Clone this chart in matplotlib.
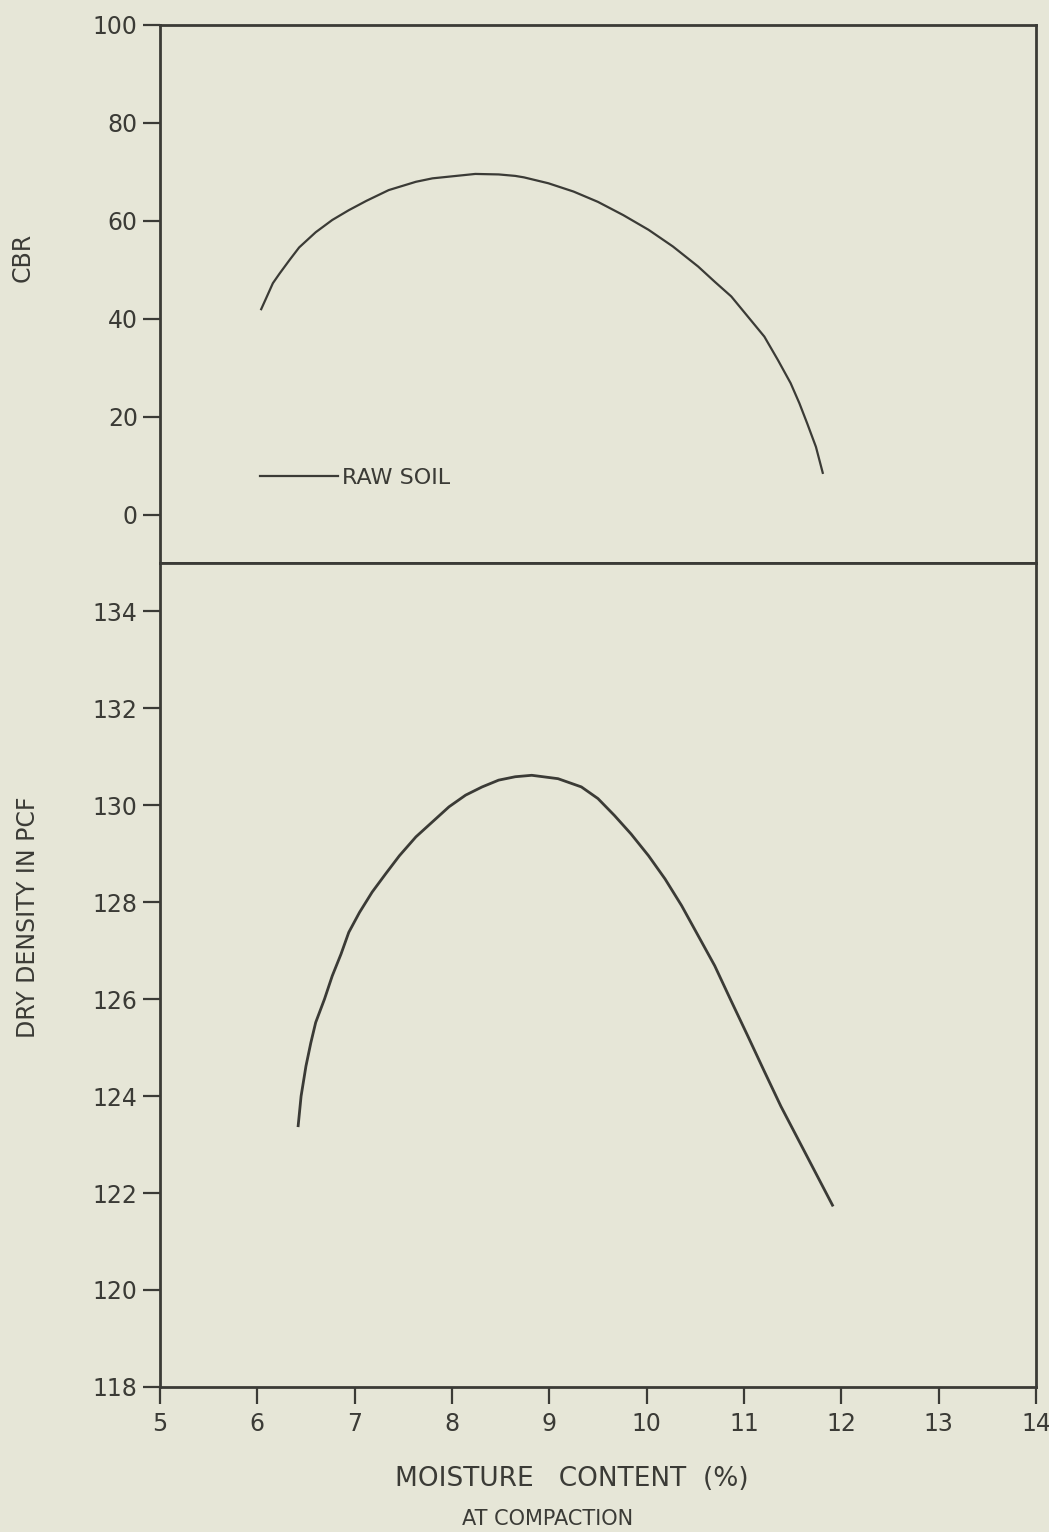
import matplotlib.pyplot as plt

# moisture content (%) and CBR
cbr_moisture = [6.04, 6.09, 6.16, 6.23, 6.33, 6.43, 6.60, 6.77, 6.94, 7.12, 7.35, 7.63,
                7.80, 8.24, 8.48, 8.65, 8.74, 8.99, 9.25, 9.50, 9.76, 10.02, 10.27,
                10.53, 10.70, 10.87, 11.04, 11.21, 11.35, 11.48, 11.57, 11.65, 11.74,
                11.81]
cbr_values = [42.0, 44.2, 47.3, 49.3, 52.0, 54.6, 57.7, 60.2, 62.2, 64.1, 66.3, 68.0,
              68.7, 69.6, 69.5, 69.2, 68.9, 67.7, 66.0, 63.9, 61.2, 58.2, 54.8,
              50.7, 47.6, 44.6, 40.5, 36.4, 31.6, 26.9, 22.8, 18.7, 13.9,
              8.6]

# moisture content (%) and dry density (pcf)
dens_moisture = [6.42, 6.45, 6.50, 6.55, 6.60, 6.69, 6.77, 6.86, 6.94, 7.05, 7.18, 7.32,
                 7.46, 7.63, 7.80, 7.97, 8.14, 8.31, 8.48, 8.65, 8.82, 9.09, 9.33,
                 9.50, 9.67, 9.84, 10.02, 10.19, 10.36, 10.53, 10.70, 10.87, 11.04,
                 11.21, 11.38, 11.64, 11.91]
dens_values = [123.39, 124.00, 124.62, 125.10, 125.52, 126.00, 126.48, 126.93, 127.38,
               127.79, 128.21, 128.59, 128.96, 129.35, 129.66, 129.97, 130.21, 130.38,
               130.52, 130.59, 130.62, 130.55, 130.38, 130.14, 129.79, 129.41, 128.96,
               128.48, 127.93, 127.31, 126.69, 125.96, 125.24, 124.51, 123.79, 122.79,
               121.75]

x_ticks = [5, 6, 7, 8, 9, 10, 11, 12, 13, 14]
cbr_ticks = [0, 20, 40, 60, 80, 100]
dens_ticks = [118, 120, 122, 124, 126, 128, 130, 132, 134]

bg = '#e6e6d7'
ink = '#3b3b36'

plt.rcParams['font.family'] = ['DejaVu Sans']

fig = plt.figure(figsize=(10.49, 15.32), dpi=100, facecolor=bg)
ax1 = fig.add_axes([0.1525, 0.6325, 0.835, 0.3512], facecolor=bg)
ax2 = fig.add_axes([0.1525, 0.0947, 0.835, 0.5378], facecolor=bg)

ax1.plot(cbr_moisture, cbr_values, color=ink, lw=1.6, solid_joinstyle='round',
         label='RAW SOIL')
ax2.plot(dens_moisture, dens_values, color=ink, lw=2.0, solid_joinstyle='round')

for ax in (ax1, ax2):
    ax.set_xlim(5, 14)
    for s in ax.spines.values():
        s.set_color(ink)
        s.set_linewidth(2.0)
    ax.tick_params(axis='both', direction='out', length=12, width=1.6, color=ink,
                   labelcolor=ink, labelsize=17, pad=4)

ax1.set_ylim(-9.8, 100)
ax1.set_yticks(cbr_ticks)
ax1.set_xticks([])

ax2.set_ylim(118, 135)
ax2.set_yticks(dens_ticks)
ax2.set_xticks(x_ticks)
ax2.tick_params(axis='x', pad=6)

ax1.legend(loc='center left', bbox_to_anchor=(0.114, 0.158), frameon=False,
           borderpad=0, borderaxespad=0, handlelength=3.5, handletextpad=0.2,
           fontsize=16, labelcolor=ink)

fig.text(0.022, 0.832, 'CBR', rotation=90, ha='center', va='center',
         fontsize=17, color=ink)
fig.text(0.027, 0.401, 'DRY DENSITY IN PCF', rotation=90, ha='center', va='center',
         fontsize=17, color=ink)
fig.text(0.545, 0.0346, 'MOISTURE   CONTENT  (%)', ha='center', va='center',
         fontsize=19, color=ink)
fig.text(0.522, 0.0085, 'AT COMPACTION', ha='center', va='center', fontsize=15,
         color=ink)

fig.savefig('out.png', dpi=100, facecolor=bg)
